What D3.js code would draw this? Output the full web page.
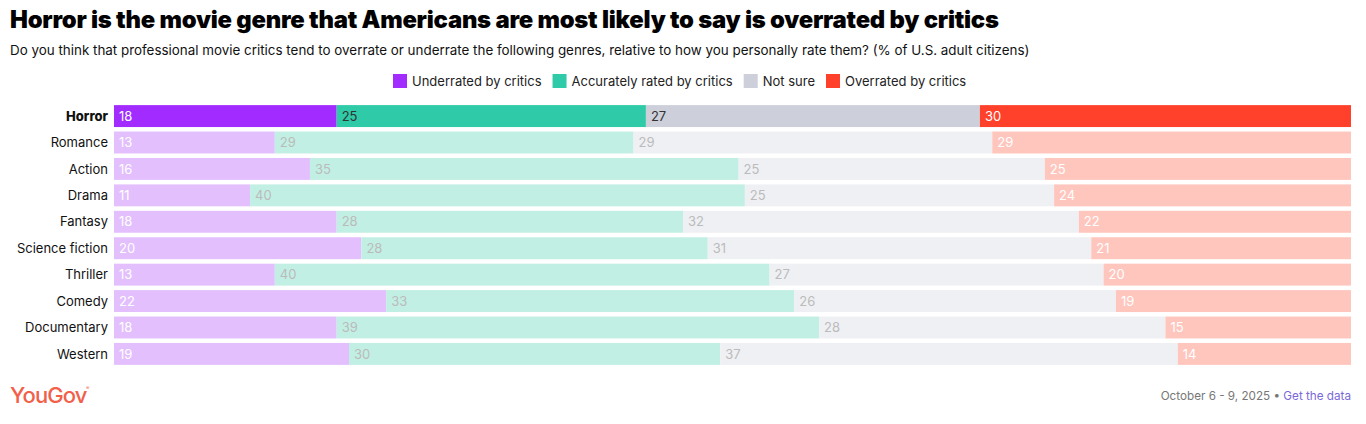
<!DOCTYPE html>
<html lang="en">
<head>
  <meta charset="UTF-8">
  <title>Horror is the most overrated genre</title>
  <style>
    body { margin: 0; background: #fff; font-family: Inter, "Noto Sans", sans-serif; }
    svg text { font-family: Inter, "Noto Sans", sans-serif; }
  </style>
</head>
<body>
  <svg width="1366" height="424"></svg>

  <script src="https://d3js.org/d3.v7.min.js"></script>
  <script>
    const genres = ["Horror", "Romance", "Action", "Drama", "Fantasy", "Science fiction", "Thriller", "Comedy", "Documentary", "Western"];
    const seriesNames = ["Underrated by critics", "Accurately rated by critics", "Not sure", "Overrated by critics"];
    const underrated = [18, 13, 16, 11, 18, 20, 13, 22, 18, 19];
    const accurate   = [25, 29, 35, 40, 28, 28, 40, 33, 39, 30];
    const notSure    = [27, 29, 25, 25, 32, 31, 27, 26, 28, 37];
    const overrated  = [30, 29, 25, 24, 22, 21, 20, 19, 15, 14];

    const strong = ["#a22bff", "#2fcaa8", "#cdd0da", "#ff412c"];
    const faded  = ["#e3bffd", "#c2efe3", "#eff0f3", "#ffc6be"];
    const labelStrong = ["#fff", "#333", "#333", "#fff"];
    const labelFaded  = ["#fff", "#bbb", "#bbb", "#fff"];

    const svg = d3.select("svg");

    // title + subtitle
    svg.append("text").attr("x", 10).attr("y", 28)
      .style("font-size", "23.8px").style("font-weight", 900).style("letter-spacing", "-0.22px")
      .attr("fill", "#000")
      .text("Horror is the movie genre that Americans are most likely to say is overrated by critics");
    svg.append("text").attr("x", 10).attr("y", 55)
      .style("font-size", "13.4px").attr("fill", "#111")
      .text("Do you think that professional movie critics tend to overrate or underrate the following genres, relative to how you personally rate them? (% of U.S. adult citizens)");

    // legend
    const legend = svg.append("g").attr("transform", "translate(393,74)");
    let lx = 0;
    seriesNames.forEach((name, i) => {
      const g = legend.append("g").attr("transform", `translate(${lx},0)`);
      g.append("rect").attr("width", 14).attr("height", 14).attr("fill", strong[i]);
      const t = g.append("text").attr("x", 19).attr("y", 12)
        .style("font-size", "13px").attr("fill", "#222").text(name);
      lx += 19 + t.node().getComputedTextLength() + 11;
    });

    // data table
    const rows = genres.map((g, i) => ({
      genre: g,
      vals: [underrated[i], accurate[i], notSure[i], overrated[i]]
    }));

    const x = d3.scaleLinear().domain([0, 1]).range([114, 1351]);
    const y = d3.scaleBand().domain(genres).range([103, 367]).paddingInner(0.17).paddingOuter(0.08);

    const rowG = svg.selectAll("g.row").data(rows).join("g").attr("class", "row");

    rowG.each(function (d, ri) {
      const total = d3.sum(d.vals);
      let acc = 0;
      const segs = d.vals.map((v, k) => {
        const s = { k, v, x0: acc / total, x1: (acc + v) / total };
        acc += v;
        return s;
      });
      const g = d3.select(this);
      const hi = ri === 0;
      g.selectAll("rect").data(segs).join("rect")
        .attr("x", s => x(s.x0))
        .attr("width", s => x(s.x1) - x(s.x0))
        .attr("y", y(d.genre))
        .attr("height", y.bandwidth())
        .attr("fill", s => (hi ? strong : faded)[s.k]);
      g.selectAll("text.val").data(segs).join("text").attr("class", "val")
        .attr("x", s => x(s.x0) + 5)
        .attr("y", y(d.genre) + y.bandwidth() / 2)
        .attr("dy", "0.36em")
        .style("font-size", "13px")
        .attr("fill", s => (hi ? labelStrong : labelFaded)[s.k])
        .text(s => s.v);
      g.append("text")
        .attr("x", 108)
        .attr("y", y(d.genre) + y.bandwidth() / 2)
        .attr("dy", "0.36em")
        .attr("text-anchor", "end")
        .style("font-size", "13px")
        .style("font-weight", hi ? 800 : 400)
        .attr("fill", "#111")
        .text(d.genre);
    });

    // footer
    svg.append("text").attr("x", 10).attr("y", 403)
      .style("font-size", "22px").style("font-weight", 500).style("letter-spacing", "-0.9px")
      .attr("fill", "#f2604a").text("YouGov");
    svg.append("text").attr("x", 86).attr("y", 390)
      .style("font-size", "5px").attr("fill", "#f2604a").text("®");

    const foot = svg.append("text").attr("x", 1351).attr("y", 400)
      .attr("text-anchor", "end").style("font-size", "11.7px");
    foot.append("tspan").attr("fill", "#777").text("October 6 - 9, 2025 • ");
    foot.append("tspan").attr("fill", "#7b68d8").text("Get the data");
  </script>
</body>
</html>
